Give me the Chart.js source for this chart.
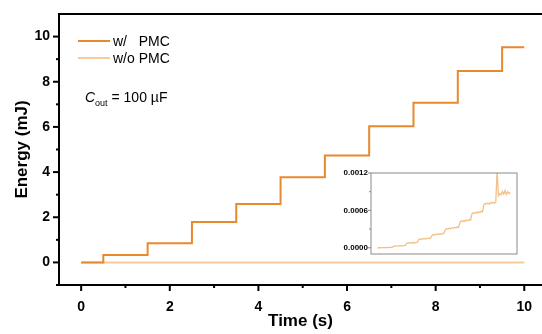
<!DOCTYPE html>
<html>
<head>
<meta charset="utf-8">
<script src="https://cdn.jsdelivr.net/npm/chart.js@4.4.0/dist/chart.umd.min.js"></script>
<style>
    html, body { margin: 0; padding: 0; background: #fff; }
    #wrap { position: relative; width: 542px; height: 334px; }
    #grafico { position: absolute; left: 0; top: 0; }
    #inset { position: absolute; left: 340px; top: 165px; }
</style>
</head>
<body>
<div id="wrap">
    <canvas id="grafico" width="542" height="334"></canvas>
    <canvas id="inset" width="185" height="95"></canvas>
</div>
<script>
// step curve with PMC (mJ), value holds from each time on
const stepTimes = [0, 0.5, 1.5, 2.5, 3.5, 4.5, 5.5, 6.5, 7.5, 8.5, 9.5, 10];
const withPmc = [0, 0.33, 0.85, 1.79, 2.59, 3.77, 4.73, 6.03, 7.07, 8.48, 9.53, 9.53];

// curve without PMC (mJ)
const noPmcTimes = [
    0.0, 0.1, 0.2, 0.3, 0.4, 0.5, 0.6, 0.7, 0.8, 0.9, 1.0, 1.1,
    1.2, 1.3, 1.4, 1.5, 1.6, 1.7, 1.8, 1.9, 2.0, 2.1,
    2.2, 2.3, 2.4, 2.5, 2.6, 2.7, 2.8, 2.9, 3.0,
    3.1, 3.2, 3.3, 3.4, 3.5, 3.6, 3.7, 3.8, 3.9, 4.0,
    4.1, 4.2, 4.3, 4.4, 4.5, 4.6, 4.7, 4.8, 4.9, 5.0,
    5.1, 5.2, 5.3, 5.4, 5.5, 5.6, 5.7, 5.8, 5.9, 6.0, 6.1,
    6.2, 6.3, 6.4, 6.5, 6.6, 6.7, 6.8, 6.9, 7.0,
    7.1, 7.2, 7.3, 7.4, 7.5, 7.6, 7.7, 7.8, 7.9,
    8.0, 8.1, 8.2, 8.3, 8.4, 8.5, 8.6, 8.7, 8.8, 8.9,
    9.0, 9.1, 9.2, 9.3, 9.4, 9.5, 9.6, 9.7, 9.8, 9.9, 10.0
];
const noPmc = [
    0.000000, 0.000001, 0.000000, 0.000002, 0.000001, 0.000003, 0.000002, 0.000004, 0.000003, 0.000005, 0.000006, 0.000008,
    0.000024, 0.000028, 0.000026, 0.000031, 0.000029, 0.000033, 0.000030, 0.000035, 0.000034, 0.000038,
    0.000072, 0.000078, 0.000074, 0.000081, 0.000077, 0.000084, 0.000080, 0.000086, 0.000089,
    0.000132, 0.000141, 0.000136, 0.000146, 0.000139, 0.000150, 0.000143, 0.000155, 0.000148, 0.000158,
    0.000198, 0.000212, 0.000205, 0.000220, 0.000209, 0.000226, 0.000214, 0.000230, 0.000222, 0.000236,
    0.000292, 0.000310, 0.000298, 0.000318, 0.000305, 0.000322, 0.000312, 0.000330, 0.000318, 0.000336, 0.000328,
    0.000410, 0.000432, 0.000418, 0.000440, 0.000425, 0.000446, 0.000433, 0.000452, 0.000445,
    0.000540, 0.000565, 0.000550, 0.000572, 0.000556, 0.000580, 0.000563, 0.000588, 0.000575,
    0.000690, 0.000712, 0.000698, 0.000718, 0.000702, 0.000725, 0.000710, 0.000730, 0.000716, 0.000735,
    0.001250, 0.000835, 0.000870, 0.000850, 0.000905, 0.000860, 0.000920, 0.000855, 0.000900, 0.000870, 0.000885
];

const xTicks = [0, 2, 4, 6, 8, 10];
const xMinor = [1, 3, 5, 7, 9];
const yTicks = [0, 2, 4, 6, 8, 10];
const yMinor = [-1, 1, 3, 5, 7, 9];
const insetTicks = [0, 0.0006, 0.0012];
const insetMinor = [0.0003, 0.0009];

const seriesLabels = ['w/   PMC', 'w/o PMC'];
const corPmc = '#e8892e';
const corSemPmc = '#f7cb9d';

Chart.defaults.font.family = '"Liberation Sans", Arial, sans-serif';
Chart.defaults.color = '#000';

function pontos(xs, ys) {
    return xs.map(function (t, i) { return { x: t, y: ys[i] }; });
}

function linha(ctx, x1, y1, x2, y2) {
    ctx.beginPath();
    ctx.moveTo(x1, y1);
    ctx.lineTo(x2, y2);
    ctx.stroke();
}

// no extra room for edge labels: the frame is fixed
function semPadding(s) {
    s.paddingLeft = 0;
    s.paddingRight = 0;
    s.paddingTop = 0;
    s.paddingBottom = 0;
}

// tick marks pointing out of the frame, major and minor
const marcas = {
    id: 'marcas',
    afterDraw(chart, args, opts) {
        const ctx = chart.ctx;
        const a = chart.chartArea;
        const sx = chart.scales.x;
        const sy = chart.scales.y;
        ctx.save();
        ctx.strokeStyle = opts.color;
        ctx.lineWidth = opts.width;
        if (opts.top) linha(ctx, a.left - 1, a.top, a.right, a.top);
        if (opts.box) ctx.strokeRect(a.left, a.top, a.right - a.left, a.bottom - a.top);
        (opts.xMajor || []).forEach(function (v) {
            const p = sx.getPixelForValue(v);
            linha(ctx, p, a.bottom, p, a.bottom + opts.major);
        });
        (opts.xMinor || []).forEach(function (v) {
            const p = sx.getPixelForValue(v);
            linha(ctx, p, a.bottom, p, a.bottom + opts.minor);
        });
        (opts.yMajor || []).forEach(function (v) {
            const p = sy.getPixelForValue(v);
            linha(ctx, a.left, p, a.left - opts.major, p);
        });
        (opts.yMinor || []).forEach(function (v) {
            const p = sy.getPixelForValue(v);
            linha(ctx, a.left, p, a.left - opts.minor, p);
        });
        ctx.restore();
    }
};

// legend and capacitor note inside the plot
const legenda = {
    id: 'legenda',
    afterDatasetsDraw(chart, args, opts) {
        const ctx = chart.ctx;
        ctx.save();
        chart.data.datasets.forEach(function (ds, i) {
            const y = opts.y + i * opts.gap;
            ctx.strokeStyle = ds.borderColor;
            ctx.lineWidth = 2;
            linha(ctx, opts.x, y, opts.x + opts.len, y);
            ctx.fillStyle = '#000';
            ctx.font = '14px "Liberation Sans", Arial';
            ctx.textBaseline = 'middle';
            ctx.fillText(ds.label, opts.x + opts.len + 3, y + 1);
        });
        ctx.textBaseline = 'alphabetic';
        let x = opts.noteX;
        ctx.font = 'italic 14px "Liberation Sans", Arial';
        ctx.fillText('C', x, opts.noteY);
        x += ctx.measureText('C').width;
        ctx.font = '9px "Liberation Sans", Arial';
        ctx.fillText('out', x, opts.noteY + 4);
        x += ctx.measureText('out').width;
        ctx.font = '14px "Liberation Sans", Arial';
        ctx.fillText(' = 100 µF', x, opts.noteY);
        ctx.restore();
    }
};

const ctx1 = document.getElementById('grafico');

new Chart(ctx1, {
    type: 'line',
    data: {
        datasets: [
            {
                label: seriesLabels[0],
                data: pontos(stepTimes, withPmc),
                stepped: 'before',
                borderColor: corPmc,
                borderWidth: 2,
                pointRadius: 0
            },
            {
                label: seriesLabels[1],
                data: pontos(noPmcTimes, noPmc),
                borderColor: corSemPmc,
                borderWidth: 2,
                pointRadius: 0
            }
        ]
    },
    options: {
        responsive: false,
        animation: false,
        layout: { padding: { top: 14, left: 0, right: 0, bottom: 0 } },
        scales: {
            x: {
                type: 'linear',
                min: -0.5,
                max: 10.4,
                afterFit: function (s) { s.height = 49; semPadding(s); },
                afterBuildTicks: function (s) { s.ticks = xTicks.map(function (v) { return { value: v }; }); },
                grid: { display: false, drawTicks: false },
                border: { display: true, color: '#000', width: 2 },
                ticks: { font: { size: 14, weight: 'bold' }, padding: 14 },
                title: { display: true, text: 'Time (s)', font: { size: 17, weight: 'bold' }, padding: { top: 0, bottom: 2 } }
            },
            y: {
                type: 'linear',
                min: -1,
                max: 11,
                afterFit: function (s) { s.width = 59; semPadding(s); },
                afterBuildTicks: function (s) { s.ticks = yTicks.map(function (v) { return { value: v }; }); },
                grid: { display: false, drawTicks: false },
                border: { display: true, color: '#000', width: 2 },
                ticks: { font: { size: 14, weight: 'bold' }, padding: 9 },
                title: { display: true, text: 'Energy (mJ)', font: { size: 17, weight: 'bold' }, padding: { top: 12, bottom: 0 } }
            }
        },
        plugins: {
            legend: { display: false },
            tooltip: { enabled: false },
            marcas: {
                color: '#000', width: 2, major: 6, minor: 3, top: true,
                xMajor: xTicks, xMinor: xMinor, yMajor: yTicks, yMinor: yMinor
            },
            legenda: { x: 78, y: 41, gap: 17, len: 32, noteX: 85, noteY: 102 }
        }
    },
    plugins: [marcas, legenda]
});

const ctx2 = document.getElementById('inset');

new Chart(ctx2, {
    type: 'line',
    data: {
        datasets: [
            {
                data: pontos(noPmcTimes, noPmc),
                borderColor: '#f4c08b',
                borderWidth: 1.3,
                pointRadius: 0
            }
        ]
    },
    options: {
        responsive: false,
        animation: false,
        layout: { padding: { top: 8, left: 0, right: 8, bottom: 6 } },
        scales: {
            x: { type: 'linear', min: -0.5, max: 10.5, display: false },
            y: {
                type: 'linear',
                min: -0.0001,
                max: 0.0012,
                afterFit: function (s) { s.width = 31; semPadding(s); },
                afterBuildTicks: function (s) { s.ticks = insetTicks.map(function (v) { return { value: v }; }); },
                grid: { display: false, drawTicks: false },
                border: { display: false },
                ticks: {
                    font: { size: 8, weight: 'bold' },
                    padding: 3,
                    callback: function (v) { return v.toFixed(4); }
                }
            }
        },
        plugins: {
            legend: { display: false },
            tooltip: { enabled: false },
            marcas: {
                color: '#8a8a8a', width: 1, major: 3, minor: 2, box: true,
                yMajor: insetTicks, yMinor: insetMinor
            }
        }
    },
    plugins: [marcas]
});
</script>
</body>
</html>
